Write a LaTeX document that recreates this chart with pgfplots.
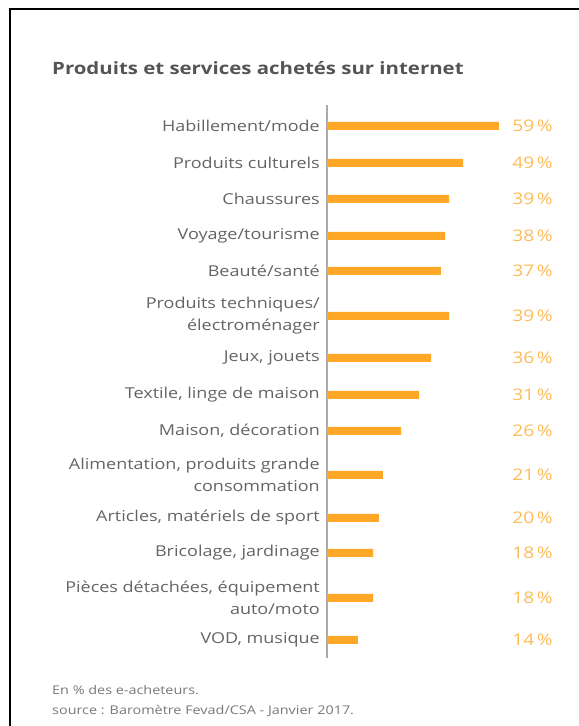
\documentclass[border=0pt]{standalone}
\usepackage{fontspec}
\setmainfont{Open Sans}[FakeStretch=1.2]
\usepackage{pgfplots}
\usepackage{pgfplotstable}
\pgfplotsset{compat=1.18}
\definecolor{barorange}{RGB}{255,167,38}
\definecolor{valorange}{RGB}{255,187,85}
\definecolor{labelgrey}{RGB}{100,100,100}
\definecolor{titlegrey}{RGB}{85,85,85}
\definecolor{footgrey}{RGB}{120,120,120}
\definecolor{axisgrey}{RGB}{170,170,170}
% y = vertical position, len = drawn bar length (in % units), val = printed value, lx = label position
\pgfplotstableread{
y   len   val  lx
600 59.0  59   77.5
563 46.7  49   77.5
527 41.9  39   77.5
490 40.5  38   77.5
455 39.1  37   77.5
410 41.9  39   77.5
368 35.7  36   77.5
331 31.6  31   77.5
295 25.4  26   77.5
251 19.2  21   77.5
208 17.8  20   77.5
173 15.8  18   77.5
128 15.8  18   77.5
86  10.6  14   77.5
}\datatable
\begin{document}
\begin{tikzpicture}
\path[use as bounding box] (0,0) rectangle (579bp,726bp);
\draw[black, line width=2bp] (9.5bp,0) -- (9.5bp,717bp) -- (579bp,717bp);
\node[anchor=west, inner sep=0pt, font=\fontsize{17bp}{20bp}\selectfont\bfseries, text=titlegrey] at (52bp,658bp) {Produits et services achetés sur internet};
\node[anchor=west, inner sep=0pt, font=\fontsize{12bp}{14bp}\selectfont, text=footgrey] at (52bp,36bp) {En \% des e-acheteurs.};
\node[anchor=west, inner sep=0pt, font=\fontsize{12bp}{14bp}\selectfont, text=footgrey] at (52bp,15bp) {source : Baromètre Fevad/CSA - Janvier 2017.};
\begin{axis}[
  at={(327bp,0bp)}, anchor=south west,
  scale only axis, width=252bp, height=726bp,
  xmin=0, xmax=86.45, ymin=0, ymax=726,
  axis line style={draw=none},
  major tick length=0pt,
  xtick=\empty,
  ytick={600,563,527,490,455,410,368,331,295,251,208,173,128,86},
  yticklabels={Habillement/mode, Produits culturels, Chaussures, Voyage/tourisme, Beauté/santé, {Produits techniques/\\électroménager}, {Jeux, jouets}, {Textile, linge de maison}, {Maison, décoration}, {Alimentation, produits grande\\consommation}, {Articles, matériels de sport}, {Bricolage, jardinage}, {Pièces détachées, équipement\\auto/moto}, {VOD, musique}},
  yticklabel style={font=\fontsize{15bp}{22bp}\selectfont, text=labelgrey, align=right, anchor=east, inner sep=0pt, xshift=-7bp},
  clip=false,
  /pgf/number format/assume math mode=true,
]
\draw[axisgrey, line width=1.3bp] (axis cs:0,621) -- (axis cs:0,68);
\addplot[xbar, bar width=8bp, fill=barorange, draw=none] table[x=len, y=y]{\datatable};
\addplot[draw=none, mark=none, nodes near coords={\pgfmathprintnumber{\pgfplotspointmeta}\,\%}, point meta=explicit,
  nodes near coords style={anchor=east, inner sep=0pt, font=\fontsize{16bp}{18bp}\selectfont, text=valorange}]
  table[x=lx, y=y, meta=val]{\datatable};
\end{axis}
\end{tikzpicture}
\end{document}
